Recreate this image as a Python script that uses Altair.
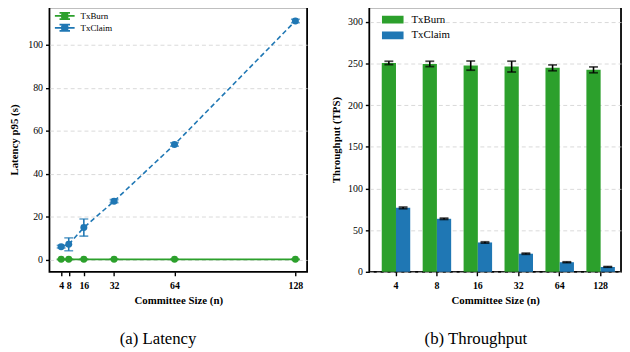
import altair as alt
import pandas as pd

# ---- data ----
sizes = [4, 8, 16, 32, 64, 128]
series = ["TxBurn", "TxClaim"]
colors = ["#2ca02c", "#1f77b4"]

lat_burn = [0.2, 0.2, 0.2, 0.2, 0.2, 0.2]
lat_burn_err = [0.1, 0.1, 0.1, 0.1, 0.1, 0.1]
lat_claim = [6.1, 7.2, 15.0, 27.3, 53.7, 111.2]
lat_claim_err = [0.6, 3.0, 4.0, 0.7, 0.8, 0.8]

tps_burn = [250.6, 249.4, 247.4, 246.2, 244.7, 242.3]
tps_burn_err = [2.0, 3.2, 5.5, 6.5, 3.5, 3.5]
tps_claim = [76.7, 63.6, 35.2, 21.7, 11.5, 5.9]
tps_claim_err = [1.0, 0.8, 0.8, 0.7, 0.5, 0.4]

lat_yticks = [0, 20, 40, 60, 80, 100]
tps_yticks = [0, 50, 100, 150, 200, 250, 300]

FONT = "Liberation Serif"


def long_df(a, ea, b, eb):
    rows = []
    for s, v, e in ((series[0], a, ea), (series[1], b, eb)):
        for n, val, err in zip(sizes, v, e):
            rows.append({"size": n, "label": str(n), "series": s, "value": val,
                         "lo": val - err, "hi": val + err})
    return pd.DataFrame(rows)


lat_df = long_df(lat_burn, lat_burn_err, lat_claim, lat_claim_err)
tps_df = long_df(tps_burn, tps_burn_err, tps_claim, tps_claim_err)

# ---------------- (a) Latency ----------------
x_lat = alt.X("size:Q",
              scale=alt.Scale(domain=[-2.2, 134.2], nice=False, zero=False),
              axis=alt.Axis(values=sizes, title="Committee Size (n)", grid=False,
                            labelFontWeight="bold", format="d", titlePadding=5,
                            labelPadding=4.5))
y_scale_lat = alt.Scale(domain=[-5.6, 117.6], nice=False, zero=False)
y_lat = alt.Y("value:Q", scale=y_scale_lat,
              axis=alt.Axis(values=lat_yticks, title="Latency p95 (s)", grid=True,
                            titlePadding=8))

errsym = ("M-1,0H1M0,-0.32V0.32M-0.53,-0.32H0.53M-0.53,0.32H0.53"
          "M0.3,0A0.3,0.3,0,1,1,-0.3,0A0.3,0.3,0,1,1,0.3,0Z")
lat_legend = alt.Legend(title=None, orient="none", legendX=4.5, legendY=3,
                        symbolType=errsym, symbolSize=400,
                        symbolStrokeWidth=1.8, labelFontSize=9,
                        labelOffset=5, clipHeight=11.7, padding=0,
                        rowPadding=0, symbolOpacity=1)
color_lat = alt.Color("series:N", scale=alt.Scale(domain=series, range=colors),
                      legend=lat_legend)

base_lat = alt.Chart(lat_df)

lines = base_lat.mark_line(strokeWidth=1.6).encode(
    x=x_lat, y=y_lat, color=color_lat,
    strokeDash=alt.StrokeDash("series:N",
                              scale=alt.Scale(domain=series, range=[[1, 0], [5, 3]]),
                              legend=None),
)
err_rule = base_lat.mark_rule(strokeWidth=1.6).encode(
    x=x_lat, y=alt.Y("lo:Q", scale=y_scale_lat), y2="hi:Q", color=color_lat)
err_lo = base_lat.mark_tick(orient="horizontal", size=9, thickness=1.6).encode(
    x=x_lat, y=alt.Y("lo:Q", scale=y_scale_lat), color=color_lat)
err_hi = base_lat.mark_tick(orient="horizontal", size=9, thickness=1.6).encode(
    x=x_lat, y=alt.Y("hi:Q", scale=y_scale_lat), color=color_lat)
points = base_lat.mark_point(filled=True, size=50, opacity=1).encode(
    x=x_lat, y=y_lat, color=color_lat)

lat_chart = alt.layer(lines, err_rule, err_lo, err_hi, points).properties(
    width=261, height=268,
    title=alt.TitleParams("(a) Latency", orient="bottom", frame="bounds",
                          anchor="middle", fontSize=17, font=FONT,
                          fontWeight="normal", offset=26, color="black"),
)

# ---------------- (b) Throughput ----------------
x_tps = alt.X("label:N", sort=[str(s) for s in sizes],
              scale=alt.Scale(paddingInner=0.304, paddingOuter=0.227, align=0.67),
              axis=alt.Axis(title="Committee Size (n)", labelAngle=0,
                            labelFontWeight="bold", grid=False, titlePadding=5,
                            labelPadding=4.5))
y_scale_tps = alt.Scale(domain=[0, 317.4], nice=False)
y_tps = alt.Y("value:Q", scale=y_scale_tps,
              axis=alt.Axis(values=tps_yticks, title="Throughput (TPS)", grid=True))
xoff = alt.XOffset("series:N", sort=series)

base_tps = alt.Chart(tps_df)
rectsym = "M-1,-0.36H1V0.36H-1Z"
bars = base_tps.mark_bar().encode(
    x=x_tps, xOffset=xoff, y=y_tps,
    color=alt.Color("series:N", scale=alt.Scale(domain=series, range=colors),
                    legend=alt.Legend(title=None, orient="none", legendX=12.7, legendY=4.5,
                                      symbolType=rectsym, symbolSize=484,
                                      symbolStrokeWidth=0, labelFontSize=11,
                                      labelOffset=8, clipHeight=16, padding=0,
                                      rowPadding=0, symbolOpacity=1)),
)
t_rule = base_tps.mark_rule(color="black", strokeWidth=1.6).encode(
    x=x_tps, xOffset=xoff, y=alt.Y("lo:Q", scale=y_scale_tps), y2="hi:Q")
t_lo = base_tps.mark_tick(color="black", size=9, thickness=1.8, orient="horizontal").encode(
    x=x_tps, xOffset=xoff, y=alt.Y("lo:Q", scale=y_scale_tps))
t_hi = base_tps.mark_tick(color="black", size=9, thickness=1.8, orient="horizontal").encode(
    x=x_tps, xOffset=xoff, y=alt.Y("hi:Q", scale=y_scale_tps))

tps_chart = alt.layer(bars, t_rule, t_lo, t_hi).properties(
    width=255, height=268,
    title=alt.TitleParams("(b) Throughput", orient="bottom", frame="bounds",
                          anchor="middle", fontSize=17, font=FONT,
                          fontWeight="normal", offset=26, color="black"),
)

chart = alt.hconcat(lat_chart, tps_chart, spacing=22).resolve_scale(
    color="independent"
).properties(padding={"top": -4, "left": 0, "right": 0, "bottom": 0}).configure(
    font=FONT,
).configure_view(
    stroke="black", strokeWidth=1.8,
).configure_axis(
    labelFont=FONT, titleFont=FONT, labelFontSize=10, titleFontSize=11,
    titleFontWeight="bold", labelColor="black", titleColor="black",
    domain=False, tickColor="black", tickWidth=1.4, tickSize=4, labelPadding=3,
    gridColor="#d0d0d0", gridDash=[4, 3], gridWidth=0.8, titlePadding=6,
).configure_legend(
    labelFont=FONT, labelColor="black",
)

chart.save("out.html", embed_options={"renderer": "svg", "actions": False})
